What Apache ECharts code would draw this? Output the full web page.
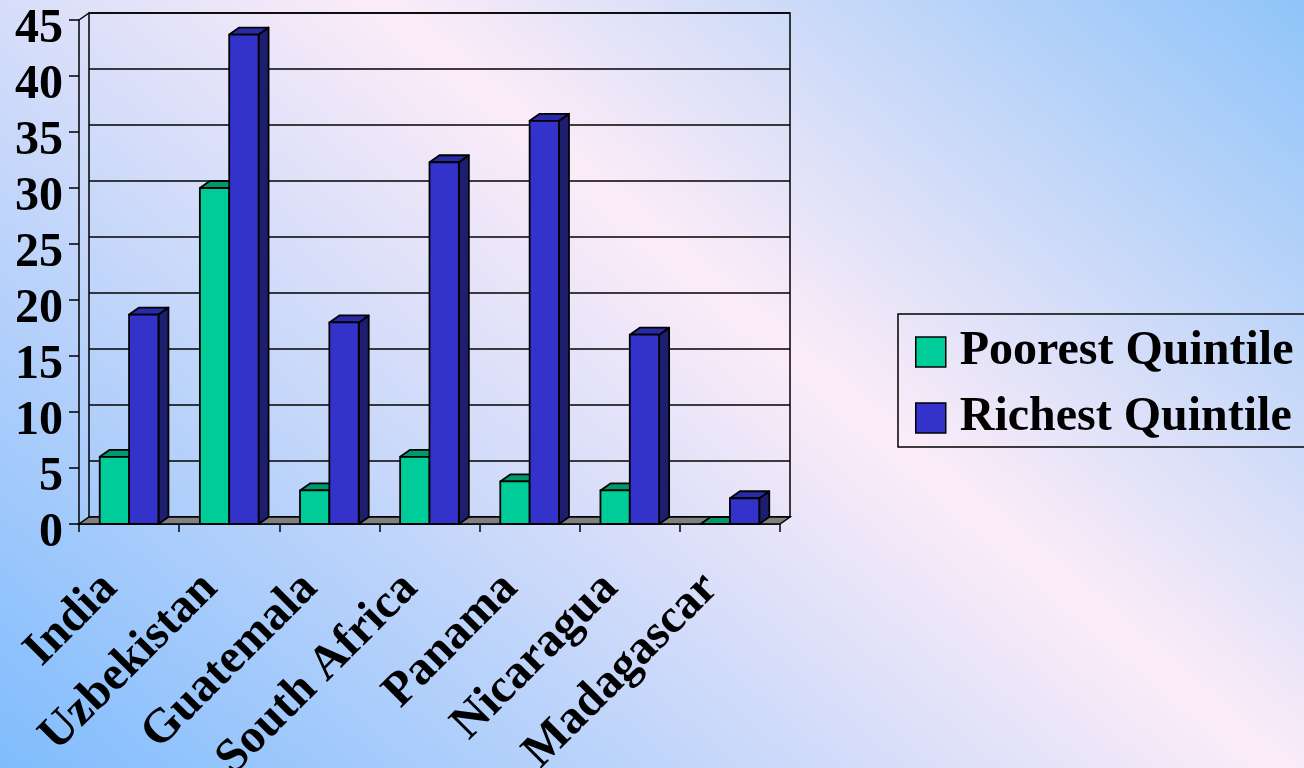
<!DOCTYPE html>
<html><head><meta charset="utf-8">
<script src="https://cdn.jsdelivr.net/npm/echarts@6/dist/echarts.min.js"></script>
<style>html,body{margin:0;padding:0;overflow:hidden}#c{width:1304px;height:768px;}</style>
</head><body><div id="c"></div>
<script>
const categories = ['India','Uzbekistan','Guatemala','South Africa','Panama','Nicaragua','Madagascar'];
const poorest = [6, 30, 3, 6, 3.8, 3, 0];
const richest = [18.7, 43.7, 18, 32.3, 36, 16.9, 2.3];
const seriesNames = ['Poorest Quintile', 'Richest Quintile'];
const yMin = 0, yMax = 45, yStep = 5;

const DX = 10, DY = -7;
const FONT = 'Liberation Serif, Times New Roman, serif';
const FS = 48;
const GREEN = '#00CC99', GREEN_TOP = '#00996B', GREEN_SIDE = '#006B4B';
const BLUE = '#3333CC', BLUE_TOP = '#2A2AA6', BLUE_SIDE = '#1E1E6E';

function barRenderer(leftSide, cFront, cTop, cSide) {
  return function (params, api) {
    const i = api.value(0), v = api.value(1);
    const base = api.coord([i, 0]);
    const tip = api.coord([i, v]);
    const band = api.size([1, 0])[0];
    const w = band * 0.293;
    const cx = base[0];
    const x0 = leftSide ? cx - w : cx;
    const x1 = x0 + w;
    const yb = base[1], yt = tip[1];
    const st = (f) => ({ fill: f, stroke: '#000', lineWidth: 1.8, lineJoin: 'round' });
    return {
      type: 'group',
      children: [
        { type: 'polygon', shape: { points: [[x1, yt], [x1 + DX, yt + DY], [x1 + DX, yb + DY], [x1, yb]] }, style: st(cSide) },
        { type: 'polygon', shape: { points: [[x0, yt], [x1, yt], [x1 + DX, yt + DY], [x0 + DX, yt + DY]] }, style: st(cTop) },
        { type: 'polygon', shape: { points: [[x0, yt], [x1, yt], [x1, yb], [x0, yb]] }, style: st(cFront) }
      ]
    };
  };
}

function floorRenderer(params, api) {
  const cs = params.coordSys;
  const x = cs.x, y = cs.y, w = cs.width, h = cs.height;
  return {
    type: 'group',
    children: [
      { type: 'polygon', shape: { points: [[x, y + h], [x + w, y + h], [x + w + DX, y + h + DY], [x + DX, y + h + DY]] },
        style: { fill: '#808080', stroke: '#000', lineWidth: 1.5 } },
      { type: 'line', shape: { x1: x, y1: y, x2: x + DX, y2: y + DY }, style: { stroke: '#000', lineWidth: 1.5 } }
    ]
  };
}

const chart = echarts.init(document.getElementById('c'), null, { renderer: 'canvas' });
chart.setOption({
  backgroundColor: {
    type: 'linear', x: 0, y: 1, x2: 0.712, y2: -0.417,
    colorStops: [
      { offset: 0, color: '#7FBCFD' },
      { offset: 0.58, color: '#FCECF8' },
      { offset: 1, color: '#8FC4F9' }
    ]
  },
  animation: false,
  grid: [
    { left: 89, top: 13, width: 701, height: 504, show: true, borderColor: '#000', borderWidth: 1.5,
      backgroundColor: 'transparent', containLabel: false, outerBoundsMode: 'none' },
    { left: 79, top: 20, width: 701, height: 504, containLabel: false, outerBoundsMode: 'none' }
  ],
  xAxis: [
    { gridIndex: 0, type: 'category', data: categories, show: false },
    { gridIndex: 1, type: 'category', data: categories, boundaryGap: true,
      axisLine: { lineStyle: { color: '#000', width: 1.5 } },
      axisTick: { show: true, length: 8, inside: false, lineStyle: { color: '#000', width: 1.5 } },
      axisLabel: { interval: 0, rotate: 45, margin: 38, padding: [0, 27, 0, 0], color: '#000',
        fontFamily: FONT, fontWeight: 'bold', fontSize: FS, hideOverlap: false } }
  ],
  yAxis: [
    { gridIndex: 0, type: 'value', min: yMin, max: yMax, interval: yStep,
      axisLine: { show: false }, axisTick: { show: false }, axisLabel: { show: false },
      splitLine: { show: true, lineStyle: { color: '#000', width: 1.5 } } },
    { gridIndex: 1, type: 'value', min: yMin, max: yMax, interval: yStep,
      axisLine: { show: true, lineStyle: { color: '#000', width: 1.5 } },
      axisTick: { show: true, length: 10, lineStyle: { color: '#000', width: 1.5 } },
      splitLine: { show: false },
      axisLabel: { margin: 16, verticalAlign: 'top', lineHeight: 19, color: '#000', fontFamily: FONT, fontWeight: 'bold', fontSize: FS } }
  ],
  legend: {
    orient: 'vertical', left: 898, top: 314,
    padding: [14, 30, 5, 17],
    borderColor: '#000', borderWidth: 1.5,
    itemWidth: 30, itemHeight: 30, itemGap: 18,
    selectedMode: false,
    textStyle: { fontFamily: FONT, fontWeight: 'bold', fontSize: FS, lineHeight: 48, color: '#000', padding: [0, 0, 0, 9] },
    data: [
      { name: seriesNames[0], icon: 'rect', itemStyle: { color: GREEN, borderColor: '#000', borderWidth: 1.5 } },
      { name: seriesNames[1], icon: 'rect', itemStyle: { color: BLUE, borderColor: '#000', borderWidth: 1.5 } }
    ]
  },
  series: [
    { type: 'custom', name: 'floor', xAxisIndex: 1, yAxisIndex: 1, data: [[0, 0]], renderItem: floorRenderer, z: 1, silent: true },
    { type: 'custom', name: seriesNames[0], xAxisIndex: 1, yAxisIndex: 1, z: 2,
      itemStyle: { color: GREEN, borderColor: '#000', borderWidth: 1.5 },
      encode: { x: 0, y: 1 },
      data: categories.map((c, i) => [i, poorest[i]]),
      renderItem: barRenderer(true, GREEN, GREEN_TOP, GREEN_SIDE) },
    { type: 'custom', name: seriesNames[1], xAxisIndex: 1, yAxisIndex: 1, z: 3,
      itemStyle: { color: BLUE, borderColor: '#000', borderWidth: 1.5 },
      encode: { x: 0, y: 1 },
      data: categories.map((c, i) => [i, richest[i]]),
      renderItem: barRenderer(false, BLUE, BLUE_TOP, BLUE_SIDE) }
  ]
});
</script>
</body></html>
